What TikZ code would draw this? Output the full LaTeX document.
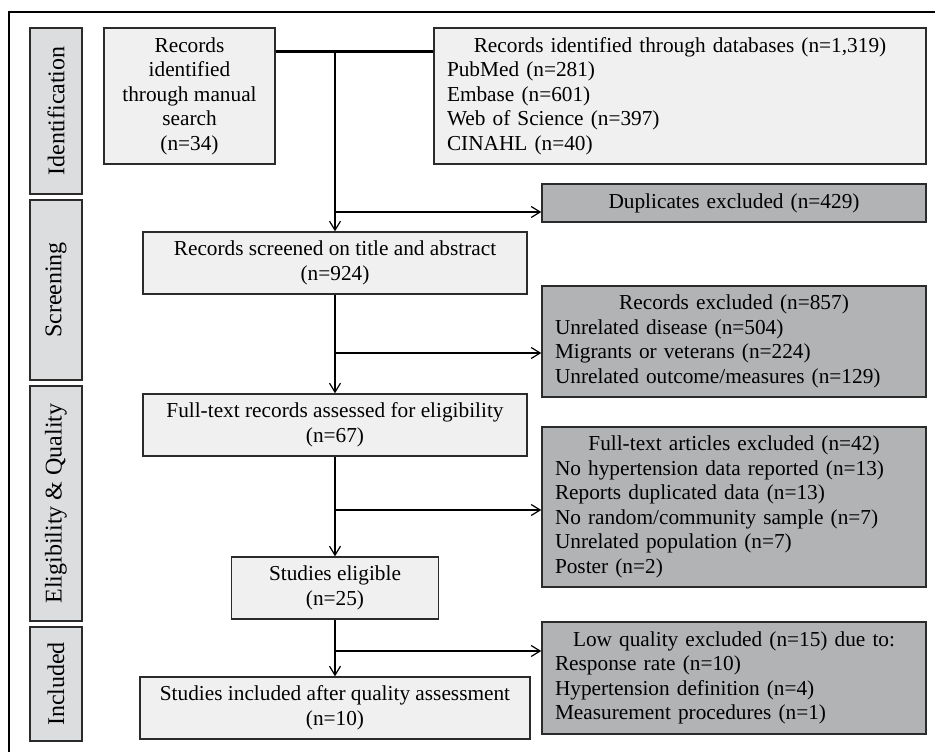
\documentclass[tikz,border=0pt]{standalone}
\usepackage{fontspec}
\setmainfont{Liberation Serif}
\usetikzlibrary{arrows.meta}

\definecolor{boxlight}{HTML}{F0F0F0}
\definecolor{boxdark}{HTML}{B1B3B5}
\definecolor{stagegray}{HTML}{DCDDDF}
\definecolor{edgegray}{HTML}{2B2B2B}

\begin{document}
\begin{tikzpicture}[x=1pt, y=-1pt, >={Straight Barb[length=9pt,width=11pt]},
  font=\fontsize{21.3}{24.5}\selectfont,
  stage/.style={draw=edgegray, line width=1.4pt, rectangle, fill=stagegray, rotate=90,
    minimum height=52pt, inner sep=0pt, font=\fontsize{24}{28}\selectfont},
  flowbox/.style={draw=edgegray, line width=1.4pt, rectangle, fill=boxlight, align=center, inner sep=0pt},
  exclbox/.style={draw=edgegray, line width=1.4pt, rectangle, fill=boxdark, text width=358pt,
    inner xsep=13pt, inner ysep=0pt, align=left},
  link/.style={line width=1.2pt}]

\useasboundingbox (0,0) rectangle (935,752);
\draw[line width=1.2pt] (9,752) -- (9,12) -- (935,12);

% Define the stage labels
\node[stage, minimum width=166pt] (ID) at (56,111) {Identification};
\node[stage, minimum width=180pt] (SC) at (56,290) {Screening};
\node[stage, minimum width=235pt] (EQ) at (56,503.5) {Eligibility \& Quality};
\node[stage, minimum width=114pt] (IN) at (56,684) {Included};

% Define the flow boxes
\node[flowbox, minimum width=171pt, minimum height=136pt] (MS) at (189.5,96)
  {Records\\identified\\through manual\\search\\(n=34)};
\node[flowbox, text width=466pt, inner xsep=13pt, minimum height=136pt, align=left] (DB) at (680,96)
  {{\centering Records identified through databases (n=1,319)\par}PubMed (n=281)\\Embase (n=601)\\Web of Science (n=397)\\CINAHL (n=40)};
\node[flowbox, minimum width=384pt, minimum height=62pt] (RS) at (335,263)
  {Records screened on title and abstract\\(n=924)};
\node[flowbox, minimum width=384pt, minimum height=62pt] (FT) at (335,425)
  {Full-text records assessed for eligibility\\(n=67)};
\node[flowbox, minimum width=207pt, minimum height=62pt] (SE) at (335,588)
  {Studies eligible\\(n=25)};
\node[flowbox, minimum width=390pt, minimum height=62pt] (SI) at (335,708)
  {Studies included after quality assessment\\(n=10)};

% Define the exclusion boxes
\node[exclbox, minimum height=38pt] (DX) at (734,203)
  {{\centering Duplicates excluded (n=429)\par}};
\node[exclbox, minimum height=111pt] (RX) at (734,341.5)
  {{\centering Records excluded (n=857)\par}Unrelated disease (n=504)\\Migrants or veterans (n=224)\\Unrelated outcome/measures (n=129)};
\node[exclbox, minimum height=160pt] (FX) at (734,507)
  {{\centering Full-text articles excluded (n=42)\par}No hypertension data reported (n=13)\\Reports duplicated data (n=13)\\No random/community sample (n=7)\\Unrelated population (n=7)\\Poster (n=2)};
\node[exclbox, minimum height=112pt] (LX) at (734,678)
  {{\centering Low quality excluded (n=15) due to:\par}Response rate (n=10)\\Hypertension definition (n=4)\\Measurement procedures (n=1)};

% Branch points on the main line
\coordinate (J) at (335,52);
\coordinate (B1) at (335,212);
\coordinate (B2) at (335,353);
\coordinate (B3) at (335,510);
\coordinate (B4) at (335,651);

% Draw the connectors
\draw[line width=3pt] (MS.east |- J) -- (DB.west |- J);
\draw[link, ->] (J) -- (RS);
\draw[link, ->] (B1) -- (B1 -| DX.west);
\draw[link, ->] (RS) -- (FT);
\draw[link, ->] (B2) -- (B2 -| RX.west);
\draw[link, ->] (FT) -- (SE);
\draw[link, ->] (B3) -- (B3 -| FX.west);
\draw[link, ->] (SE) -- (SI);
\draw[link, ->] (B4) -- (B4 -| LX.west);
\end{tikzpicture}
\end{document}
